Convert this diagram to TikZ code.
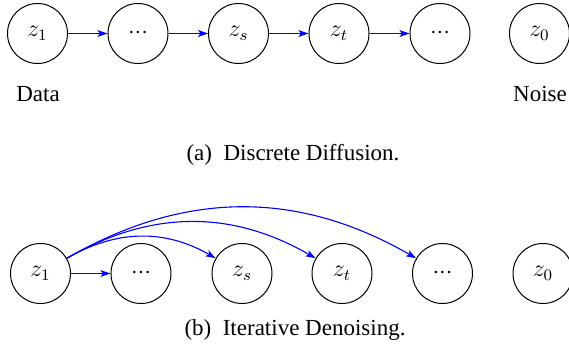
\documentclass[tikz,border=0pt]{standalone}
\usepackage[no-math]{fontspec}
\setmainfont{Liberation Serif}
\usetikzlibrary{arrows.meta}
\newcommand{\mydots}{\mathord{\cdot}\mathord{\cdot}\mathord{\cdot}}
\begin{document}
\begin{tikzpicture}[x=0.5pt,y=-0.5pt,
  var/.style={draw=black,circle,line width=0.5pt,minimum size=30pt,inner sep=0pt,font=\fontsize{12}{14}\selectfont},
  lbl/.style={inner sep=0pt,font=\fontsize{11.5}{13.5}\selectfont},
  arr/.style={draw=blue,line width=0.55pt,-{Stealth[length=5pt,width=3.4pt,inset=1.2pt]}}]
\useasboundingbox (0,0) rectangle (569,348);
\clip (0,0) rectangle (569,348);
% top row
\node[var] (a1) at (37.5,33.5) {$z_1$};
\node[var] (a2) at (138,33.5) {$\mydots$};
\node[var] (a3) at (238.5,33.5) {$z_s$};
\node[var] (a4) at (339,33.5) {$z_t$};
\node[var] (a5) at (440,33.5) {$\mydots$};
\node[var] (a6) at (539.5,33.5) {$z_0$};
\draw[arr] (a1) -- (a2);
\draw[arr] (a2) -- (a3);
\draw[arr] (a3) -- (a4);
\draw[arr] (a4) -- (a5);
\node[lbl,anchor=base] (data) at (38,101) {Data};
\node[lbl,anchor=base] (noise) at (540,101) {Noise};
\node[lbl,anchor=base] (capa) at (293,160.5) {(a)\enspace Discrete Diffusion.};
% bottom row
\node[var] (b1) at (40.5,273.5) {$z_1$};
\node[var] (b2) at (141,273.5) {$\mydots$};
\node[var] (b3) at (242,273.5) {$z_s$};
\node[var] (b4) at (342,273.5) {$z_t$};
\node[var] (b5) at (442.5,273.5) {$\mydots$};
\node[var] (b6) at (543,273.5) {$z_0$};
\draw[arr] (b1) -- (b2);
\draw[arr] (b1) to[bend left=30] (b3);
\draw[arr] (b1) to[bend left=30] (b4);
\draw[arr] (b1) to[bend left=30] (b5);
\node[lbl,anchor=base] (capb) at (295,335) {(b)\enspace Iterative Denoising.};
\end{tikzpicture}
\end{document}
